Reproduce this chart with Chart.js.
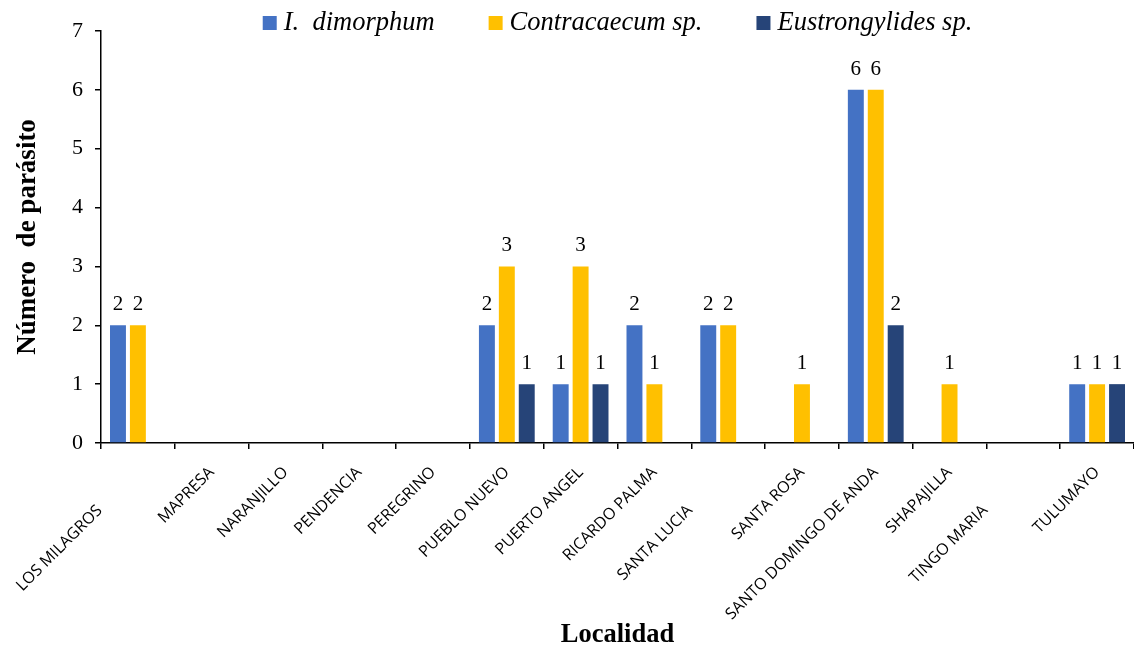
<!DOCTYPE html>
<html>
<head>
<meta charset="utf-8">
<script src="https://cdn.jsdelivr.net/npm/chart.js@4.4.1/dist/chart.umd.min.js"></script>
<style>
  html, body { margin: 0; padding: 0; background: #fff; }
  #wrap { width: 1134px; height: 646px; }
</style>
</head>
<body>
<div id="wrap"><canvas id="chart"></canvas></div>
<script>
// Localidades (eje X)
const localidades = [
  "LOS MILAGROS", "MAPRESA", "NARANJILLO", "PENDENCIA", "PEREGRINO",
  "PUEBLO NUEVO", "PUERTO ANGEL", "RICARDO PALMA", "SANTA LUCIA",
  "SANTA ROSA", "SANTO DOMINGO DE ANDA", "SHAPAJILLA", "TINGO MARIA", "TULUMAYO"
];

// Número de parásitos por especie
const dimorphum      = [2, 0, 0, 0, 0, 2, 1, 2, 2, 0, 6, 0, 0, 1];
const contracaecum   = [2, 0, 0, 0, 0, 3, 3, 1, 2, 1, 6, 1, 0, 1];
const eustrongylides = [0, 0, 0, 0, 0, 1, 1, 0, 0, 0, 2, 0, 0, 1];

const seriesNames = ["I.  dimorphum", "Contracaecum sp.", "Eustrongylides sp."];
const yTicks = [0, 1, 2, 3, 4, 5, 6, 7];

const SERIF = "'Liberation Serif', 'Times New Roman', serif";

// value labels above each non-zero bar
const valueLabels = {
  id: 'valueLabels',
  afterDatasetsDraw(chart) {
    const ctx = chart.ctx;
    ctx.save();
    ctx.font = "21px " + SERIF;
    ctx.fillStyle = "#000";
    ctx.textAlign = "center";
    ctx.textBaseline = "alphabetic";
    chart.data.datasets.forEach((ds, i) => {
      const meta = chart.getDatasetMeta(i);
      meta.data.forEach((bar, j) => {
        const v = ds.data[j];
        if (!v) return;
        ctx.fillText(String(v), bar.x, bar.y - 15);
      });
    });
    ctx.restore();
  }
};

// legend drawn by hand so it sits in the top strip like the original
const topLegend = {
  id: 'topLegend',
  afterDraw(chart) {
    const ctx = chart.ctx;
    const box = 14, gapText = 7, gapItem = 54;
    ctx.save();
    ctx.font = "italic 26.5px " + SERIF;
    const items = chart.data.datasets.map(ds => ({
      text: ds.label, color: ds.backgroundColor, w: ctx.measureText(ds.label).width
    }));
    const total = items.reduce((s, it) => s + box + gapText + it.w, 0) + gapItem * (items.length - 1);
    const area = chart.chartArea;
    let x = (area.left + area.right) / 2 - total / 2;
    const cy = 23;
    ctx.textBaseline = "middle";
    ctx.textAlign = "left";
    items.forEach(it => {
      ctx.fillStyle = it.color;
      ctx.fillRect(x, cy - box / 2, box, box);
      x += box + gapText;
      ctx.fillStyle = "#000";
      ctx.fillText(it.text, x, cy);
      x += it.w + gapItem;
    });
    ctx.restore();
  }
};

// labels that Excel pushed lower down their diagonal
const lowered = [0, 8, 12];

new Chart(document.getElementById('chart'), {
  type: 'bar',
  data: {
    labels: localidades,
    datasets: [
      { label: seriesNames[0], data: dimorphum, backgroundColor: '#4472C4' },
      { label: seriesNames[1], data: contracaecum, backgroundColor: '#FFC000' },
      { label: seriesNames[2], data: eustrongylides, backgroundColor: '#264478' }
    ]
  },
  options: {
    responsive: true,
    maintainAspectRatio: false,
    animation: false,
    layout: { padding: { top: 31, right: 0, left: 0, bottom: 0 } },
    datasets: {
      bar: { barPercentage: 0.8, categoryPercentage: 0.81, borderWidth: 0 }
    },
    plugins: {
      legend: { display: false },
      tooltip: { enabled: false }
    },
    scales: {
      x: {
        grid: {
          display: true, offset: true, drawOnChartArea: false,
          drawTicks: true, tickLength: 6, color: '#000', lineWidth: 1.5
        },
        border: { display: true, color: '#000', width: 1.5 },
        ticks: {
          autoSkip: false, maxRotation: 45, minRotation: 45, padding: 14,
          color: '#000',
          font: { family: "'Open Sans', sans-serif", size: 16 },
          callback: function (val, idx) {
            const name = this.getLabelForValue(val);
            return lowered.includes(idx) ? name + ' '.repeat(13) : name;
          }
        },
        title: {
          display: true, text: 'Localidad', color: '#000',
          font: { family: SERIF, size: 26.5, weight: 'bold' },
          padding: { top: 0, bottom: -5 }
        },
        afterFit: (scale) => { scale.height = 203; }
      },
      y: {
        min: 0, max: 7,
        afterBuildTicks: (scale) => { scale.ticks = yTicks.map(v => ({ value: v })); },
        grid: {
          display: true, drawOnChartArea: false, drawTicks: true,
          tickLength: 6, color: '#000', lineWidth: 1.5
        },
        border: { display: true, color: '#000', width: 1.5 },
        ticks: {
          padding: 12, color: '#000',
          font: { family: SERIF, size: 22 }
        },
        title: {
          display: true, text: 'Número  de parásito', color: '#000',
          font: { family: SERIF, size: 27, weight: 'bold' },
          padding: { top: 12, bottom: 0 }
        },
        afterFit: (scale) => { scale.width = 101; }
      }
    }
  },
  plugins: [valueLabels, topLegend]
});
</script>
</body>
</html>
